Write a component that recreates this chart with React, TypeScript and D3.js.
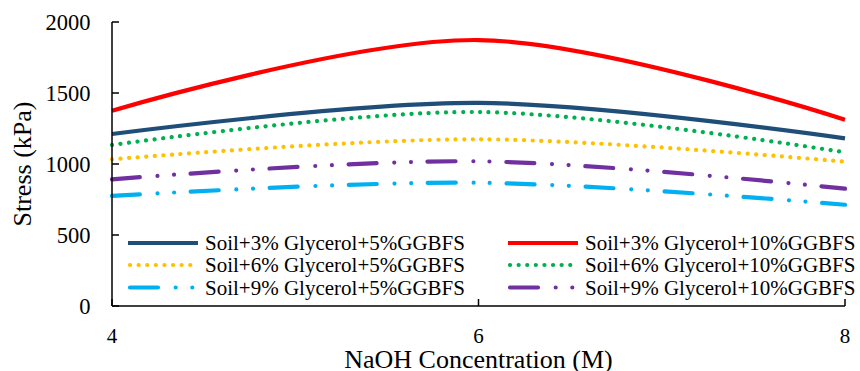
import React from "react";
import * as d3 from "d3";

const xValues = [4, 6, 8];
const seriesNames = [
  "Soil+3% Glycerol+5%GGBFS",
  "Soil+3% Glycerol+10%GGBFS",
  "Soil+6% Glycerol+5%GGBFS",
  "Soil+6% Glycerol+10%GGBFS",
  "Soil+9% Glycerol+5%GGBFS",
  "Soil+9% Glycerol+10%GGBFS",
];
const s3g5 = [1211, 1430, 1181];
const s3g10 = [1375, 1873, 1312];
const s6g5 = [1033, 1174, 1016];
const s6g10 = [1134, 1366, 1082];
const s9g5 = [775, 868, 713];
const s9g10 = [892, 1019, 826];
const seriesValues = [s3g5, s3g10, s6g5, s6g10, s9g5, s9g10];
const colors = ["#1F4E79", "#FF0000", "#FFC000", "#00B050", "#00B0F0", "#7030A0"];
const dashes = ["", "", "0.1 8.5", "0.1 8.5", "28 17.7 0 16.6 0 16.7", "28 17.7 0 16.6 0 16.7"];
const yTicks = [0, 500, 1000, 1500, 2000];
const xTicks = [4, 6, 8];

const FONT = "Liberation Serif";

export default function App() {
  const W = 860, H = 371;
  const left = 112, right = 845, top = 22, bottom = 306;
  const x = d3.scaleLinear().domain([4, 8]).range([left, right]);
  const y = d3.scaleLinear().domain([0, 2000]).range([bottom, top]);
  const line = d3
    .line<number>()
    .x((_, i) => x(xValues[i]))
    .y((d) => y(d))
    .curve(d3.curveCardinal.tension(0));
  const legendRows = [243, 265, 287.5];
  const legendCols = [128, 508];
  const ts = { fontFamily: FONT };
  return (
    <svg width={W} height={H} style={{ position: "absolute", left: 0, top: 0, background: "#fff" }}>
      <rect width={W} height={H} fill="#fff" />
      {seriesValues.map((vals, i) => (
        <path
          key={i}
          d={line(vals) || ""}
          fill="none"
          stroke={colors[i]}
          strokeWidth={4.2}
          strokeDasharray={dashes[i] || undefined}
          strokeLinecap={dashes[i] ? "round" : "butt"}
        />
      ))}
      <line x1={left} x2={left} y1={top} y2={bottom} stroke="#000" strokeWidth={1.5} />
      <line x1={left} x2={right} y1={bottom} y2={bottom} stroke="#000" strokeWidth={1.5} />
      {yTicks.map((t) => (
        <g key={t}>
          <line x1={left} x2={left + 7} y1={y(t)} y2={y(t)} stroke="#000" strokeWidth={1.5} />
          <text style={ts} x={90.5} y={y(t) + 8.3} textAnchor="end" fontSize={22.5}>
            {t}
          </text>
        </g>
      ))}
      {xTicks.map((t) => (
        <g key={t}>
          <line x1={x(t)} x2={x(t)} y1={bottom} y2={bottom - 7} stroke="#000" strokeWidth={1.5} />
          <text style={ts} x={x(t)} y={342.5} textAnchor="middle" fontSize={21}>
            {t}
          </text>
        </g>
      ))}
      <text style={ts} x={x(6)} y={367.5} textAnchor="middle" fontSize={26}>
        NaOH Concentration (M)
      </text>
      <text
        style={ts}
        transform={`translate(31,164) rotate(-90)`}
        textAnchor="middle"
        fontSize={26}
      >
        Stress (kPa)
      </text>
      {seriesNames.map((name, i) => {
        const col = i % 2;
        const row = Math.floor(i / 2);
        const lx = legendCols[col];
        const ly = legendRows[row];
        return (
          <g key={name}>
            <line
              x1={lx + (dashes[i] ? 2 : 0)}
              x2={lx + 70}
              y1={ly}
              y2={ly}
              stroke={colors[i]}
              strokeWidth={4.2}
              strokeDasharray={dashes[i] || undefined}
              strokeLinecap={dashes[i] ? "round" : "butt"}
            />
            <text style={ts} x={lx + 77} y={ly + 7} fontSize={21}>
              {name}
            </text>
          </g>
        );
      })}
    </svg>
  );
}
